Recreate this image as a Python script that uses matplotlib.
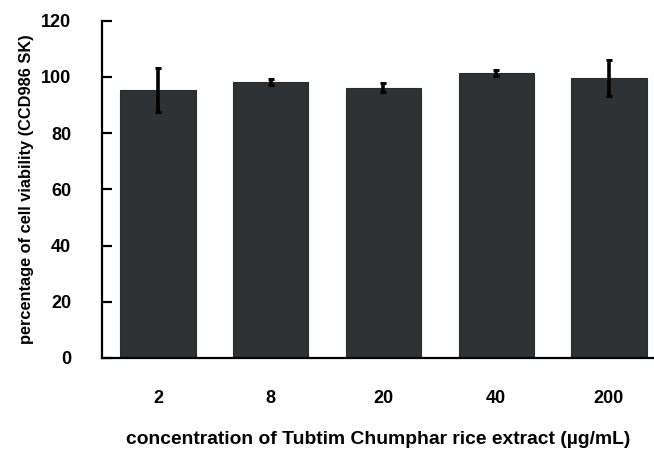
import matplotlib
matplotlib.use('Agg')
import matplotlib.pyplot as plt
import numpy as np

# Data
concentrations = ['2', '8', '20', '40', '200']
viability = [95.4, 98.2, 96.2, 101.3, 99.7]
viability_err = [7.8, 1.0, 1.7, 1.0, 6.4]

plt.rcParams['font.family'] = 'Liberation Sans'
plt.rcParams['font.weight'] = 'bold'

fig = plt.figure(figsize=(6.54, 4.49), dpi=100)
ax = fig.add_axes([0.1555, 0.2027, 0.8445, 0.7513])

x = np.arange(len(concentrations))
ax.bar(x, viability, width=0.667, color='#2f3235', edgecolor='#2a2d30', linewidth=0.8,
       yerr=viability_err, error_kw=dict(ecolor='black', elinewidth=2.6, capsize=2.5, capthick=2.2))

ax.set_xlim(-0.5, 4.4)
ax.set_ylim(0, 120)
ax.set_yticks(np.arange(0, 121, 20))
ax.set_xticks(x)
ax.set_xticklabels(concentrations)

for side in ['top', 'right']:
    ax.spines[side].set_visible(False)
for side in ['left', 'bottom']:
    ax.spines[side].set_linewidth(1.6)
    ax.spines[side].set_color('black')

ax.tick_params(axis='y', direction='in', length=7, width=1.6, pad=22, labelsize=13)
ax.tick_params(axis='x', length=0, pad=23, labelsize=13)
for lbl in ax.get_xticklabels() + ax.get_yticklabels():
    lbl.set_fontweight('bold')

ax.set_ylabel('percentage of cell viability (CCD986 SK)', fontsize=11.8, fontweight='bold', labelpad=5)
ax.set_xlabel('concentration of Tubtim Chumphar rice extract (\u00b5g/mL)', fontsize=13.9,
              fontweight='bold', labelpad=17)

fig.savefig('out.png', dpi=100)
